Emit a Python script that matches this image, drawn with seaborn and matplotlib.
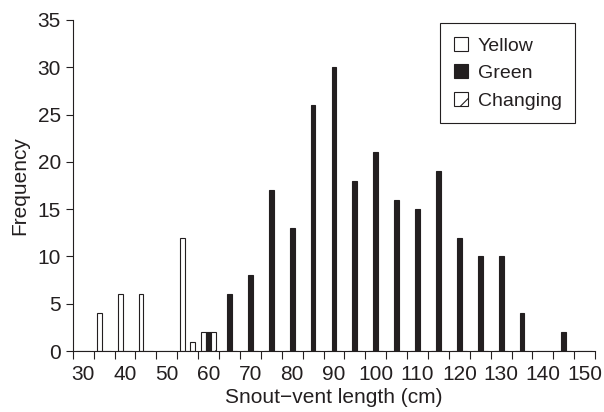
import numpy as np
import pandas as pd
import matplotlib
matplotlib.use("Agg")
import matplotlib.pyplot as plt
import matplotlib.patches as mpatches
import seaborn as sns

# Snout-vent length bins (cm), 5 cm wide
lengths = [30, 35, 40, 45, 50, 55, 60, 65, 70, 75, 80, 85, 90,
           95, 100, 105, 110, 115, 120, 125, 130, 135, 140, 145, 150]
yellow = [0, 4, 6, 6, 0, 12, 2, 0, 0, 0, 0, 0, 0,
          0, 0, 0, 0, 0, 0, 0, 0, 0, 0, 0, 0]
green = [0, 0, 0, 0, 0, 0, 2, 6, 8, 17, 13, 26, 30,
         18, 21, 16, 15, 19, 12, 10, 10, 4, 0, 2, 0]
changing = [0, 0, 0, 0, 0, 1, 2, 0, 0, 0, 0, 0, 0,
            0, 0, 0, 0, 0, 0, 0, 0, 0, 0, 0, 0]
groups = ["Yellow", "Green", "Changing"]

DARK = "#231f20"

df = pd.concat([
    pd.DataFrame({"length": [str(v) for v in lengths], "freq": vals, "group": g})
    for g, vals in zip(groups, [yellow, green, changing])
], ignore_index=True)

sns.set_style("ticks")
plt.rcParams["font.family"] = ["Liberation Sans", "DejaVu Sans"]
plt.rcParams["hatch.linewidth"] = 0.8
plt.rcParams["hatch.color"] = DARK

fig = plt.figure(figsize=(6.04, 4.12), dpi=100)
ax = fig.add_axes([0.1204, 0.148, 0.865, 0.8035])

palette = {"Yellow": "white", "Green": DARK, "Changing": "white"}
sns.barplot(data=df, x="length", y="freq", hue="group", hue_order=groups,
            order=[str(v) for v in lengths], palette=palette, width=0.7,
            edgecolor=DARK, linewidth=0.8, saturation=1, legend=False, ax=ax)

for bar in ax.containers[2]:
    bar.set_hatch("/")

# category axis: ticks between categories, labels every other category
n = len(lengths)
ax.set_xlim(-0.5, n - 0.5)
ax.set_xticks(np.arange(-0.5, n, 1.0))
ax.set_xticklabels([])
ax.set_xticks(np.arange(0, n, 2), minor=True)
ax.set_xticklabels([str(v) for v in lengths[::2]], minor=True)
ax.tick_params(axis="x", which="major", direction="out", length=5.5, width=0.8, color=DARK)
ax.tick_params(axis="x", which="minor", length=0, labelsize=15, pad=10, labelcolor=DARK)

ax.set_ylim(0, 35)
ax.set_yticks(range(0, 36, 5))
ax.tick_params(axis="y", direction="out", length=5, width=0.8, color=DARK,
               labelsize=15, labelcolor=DARK)

for side in ["left", "bottom"]:
    ax.spines[side].set_color(DARK)
    ax.spines[side].set_linewidth(0.8)
sns.despine(ax=ax)

ax.set_xlabel("Snout\u2212vent length (cm)", fontsize=15, color=DARK, labelpad=3)
ax.set_ylabel("Frequency", fontsize=15, color=DARK, labelpad=6)

handles = [
    mpatches.Patch(facecolor="white", edgecolor=DARK, linewidth=0.8, label="Yellow"),
    mpatches.Patch(facecolor=DARK, edgecolor=DARK, linewidth=0.8, label="Green"),
    mpatches.Patch(facecolor="white", edgecolor=DARK, linewidth=0.8, hatch="/", label="Changing"),
]
leg = ax.legend(handles=handles, loc="upper right", bbox_to_anchor=(0.962, 0.99),
                borderaxespad=0, fontsize=14, frameon=True, fancybox=False, framealpha=1,
                handlelength=0.72, handleheight=0.72, handletextpad=0.5,
                labelspacing=0.5, borderpad=0.7)
leg.get_frame().set_edgecolor(DARK)
leg.get_frame().set_linewidth(0.8)
for t in leg.get_texts():
    t.set_color(DARK)

fig.savefig("out.png", dpi=100)
